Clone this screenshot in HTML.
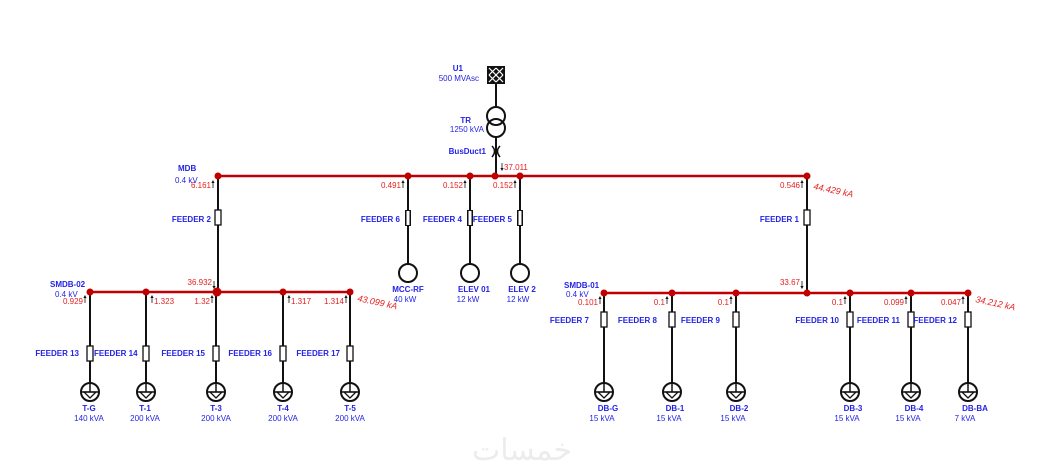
<!DOCTYPE html>
<html><head><meta charset="utf-8"><style>
html,body{margin:0;padding:0;background:#fff;width:1045px;height:470px;overflow:hidden}
svg{display:block}
text{font-family:"Liberation Sans",sans-serif;font-size:8px}
.b{fill:#2323e6}
.bb{fill:#2323e6;font-weight:bold}
.r{fill:#e62020}
.ri{fill:#e62020;font-style:italic;font-size:9px}
.ln{stroke:#111;stroke-width:2;fill:none}
.bus{stroke:#c00000;stroke-width:2.5}
.nd{fill:#c00000}
</style></head><body>
<svg width="1045" height="470" viewBox="0 0 1045 470" xmlns="http://www.w3.org/2000/svg">
<defs>
<g id="fuse"><rect x="-3" y="0" width="6" height="15" fill="#fff" stroke="#111" stroke-width="1.3"/></g>
<g id="load"><circle r="9" fill="#fff" stroke="#111" stroke-width="2"/><line x1="-9" y1="0" x2="9" y2="0" stroke="#111" stroke-width="1.5"/><path d="M-6,0 L6,0 L0,6 Z" fill="none" stroke="#111" stroke-width="1.3"/><line x1="0" y1="-9" x2="0" y2="0" stroke="#111" stroke-width="1.5"/></g>
<g id="arr"><line x1="0" y1="0" x2="0" y2="-7" stroke="#111" stroke-width="0.8"/><path d="M-1.6,-5 L0,-8 L1.6,-5Z" fill="#111"/></g>
<g id="arrd"><line x1="0" y1="0" x2="0" y2="7" stroke="#111" stroke-width="0.8"/><path d="M-1.6,5 L0,8 L1.6,5Z" fill="#111"/></g>
</defs>

<!-- Source U1 -->
<rect x="487" y="66" width="18" height="18" fill="#111"/>
<g stroke="#fff" stroke-width="1.2">
<line x1="489" y1="68" x2="503" y2="82"/><line x1="503" y1="68" x2="489" y2="82"/>
<line x1="489" y1="75" x2="496" y2="68"/><line x1="496" y1="82" x2="503" y2="75"/>
<line x1="489" y1="75" x2="496" y2="82"/><line x1="496" y1="68" x2="503" y2="75"/>
</g>
<text x="463" y="71" class="bb" text-anchor="end">U1</text>
<text x="479" y="81" class="b" text-anchor="end">500 MVAsc</text>
<line class="ln" x1="496" y1="84" x2="496" y2="107"/>
<circle cx="496" cy="116" r="9" fill="none" stroke="#111" stroke-width="2"/>
<circle cx="496" cy="128" r="9" fill="none" stroke="#111" stroke-width="2"/>
<text x="471" y="123" class="bb" text-anchor="end">TR</text>
<text x="484" y="132" class="b" text-anchor="end">1250 kVA</text>
<line class="ln" x1="496" y1="137" x2="496" y2="176"/>
<path d="M492,146 Q497,151 492,157 M500,146 Q495,151 500,157" stroke="#111" stroke-width="1.5" fill="none"/>
<text x="486" y="154" class="bb" text-anchor="end">BusDuct1</text>
<use href="#arrd" x="502" y="163"/>
<text x="504" y="170" class="r">37.011</text>

<!-- Top bus -->
<line class="bus" x1="218" y1="176" x2="807" y2="176"/>
<text x="178" y="171" class="bb">MDB</text>
<text x="175" y="183" class="b">0.4 kV</text>
<text x="211" y="188" class="r" text-anchor="end">6.161</text><use href="#arr" x="213" y="188"/>
<text x="401" y="188" class="r" text-anchor="end">0.491</text><use href="#arr" x="403" y="188"/>
<text x="463" y="188" class="r" text-anchor="end">0.152</text><use href="#arr" x="465" y="188"/>
<text x="513" y="188" class="r" text-anchor="end">0.152</text><use href="#arr" x="515" y="188"/>
<text x="800" y="188" class="r" text-anchor="end">0.546</text><use href="#arr" x="802" y="188"/>
<text x="813" y="189" class="ri" transform="rotate(12 813 189)">44.429 kA</text>

<!-- MDB -> SMDB-02 -->
<line class="ln" x1="218" y1="176" x2="218" y2="292"/>
<use href="#fuse" x="218" y="210"/>
<text x="211" y="222" class="bb" text-anchor="end">FEEDER 2</text>
<text x="212" y="285" class="r" text-anchor="end">36.932</text><use href="#arrd" x="214" y="281"/>

<!-- Motors -->
<line class="ln" x1="408" y1="176" x2="408" y2="264"/><rect x="405" y="210" width="6" height="16" fill="#111"/><rect x="406.5" y="211" width="3" height="14" fill="#fff"/>
<circle cx="408" cy="273" r="9" fill="#fff" stroke="#111" stroke-width="2"/>
<text x="400" y="222" class="bb" text-anchor="end">FEEDER 6</text>
<text x="408" y="292" class="bb" text-anchor="middle">MCC-RF</text>
<text x="405" y="302" class="b" text-anchor="middle">40 kW</text>

<line class="ln" x1="470" y1="176" x2="470" y2="264"/><rect x="467" y="210" width="6" height="16" fill="#111"/><rect x="468.5" y="211" width="3" height="14" fill="#fff"/>
<circle cx="470" cy="273" r="9" fill="#fff" stroke="#111" stroke-width="2"/>
<text x="462" y="222" class="bb" text-anchor="end">FEEDER 4</text>
<text x="474" y="292" class="bb" text-anchor="middle">ELEV 01</text>
<text x="468" y="302" class="b" text-anchor="middle">12 kW</text>

<line class="ln" x1="520" y1="176" x2="520" y2="264"/><rect x="517" y="210" width="6" height="16" fill="#111"/><rect x="518.5" y="211" width="3" height="14" fill="#fff"/>
<circle cx="520" cy="273" r="9" fill="#fff" stroke="#111" stroke-width="2"/>
<text x="512" y="222" class="bb" text-anchor="end">FEEDER 5</text>
<text x="522" y="292" class="bb" text-anchor="middle">ELEV 2</text>
<text x="518" y="302" class="b" text-anchor="middle">12 kW</text>

<!-- Feeder 1 -->
<line class="ln" x1="807" y1="176" x2="807" y2="293"/>
<use href="#fuse" x="807" y="210"/>
<text x="799" y="222" class="bb" text-anchor="end">FEEDER 1</text>
<text x="800" y="285" class="r" text-anchor="end">33.67</text><use href="#arrd" x="802" y="281"/>

<!-- Left bus SMDB-02 -->
<g>
<line class="ln" x1="90" y1="292" x2="90" y2="383"/><use href="#fuse" x="90" y="346"/><use href="#load" x="90" y="392"/>
<line class="ln" x1="146" y1="292" x2="146" y2="383"/><use href="#fuse" x="146" y="346"/><use href="#load" x="146" y="392"/>
<line class="ln" x1="216" y1="292" x2="216" y2="383"/><use href="#fuse" x="216" y="346"/><use href="#load" x="216" y="392"/>
<line class="ln" x1="283" y1="292" x2="283" y2="383"/><use href="#fuse" x="283" y="346"/><use href="#load" x="283" y="392"/>
<line class="ln" x1="350" y1="292" x2="350" y2="383"/><use href="#fuse" x="350" y="346"/><use href="#load" x="350" y="392"/>
</g>
<line class="bus" x1="90" y1="292" x2="350" y2="292"/>
<text x="50" y="287" class="bb">SMDB-02</text>
<text x="55" y="297" class="b">0.4 kV</text>
<text x="83" y="304" class="r" text-anchor="end">0.929</text><use href="#arr" x="85" y="303"/>
<use href="#arr" x="152" y="303"/><text x="154" y="304" class="r">1.323</text>
<text x="210" y="304" class="r" text-anchor="end">1.32</text><use href="#arr" x="212" y="303"/>
<use href="#arr" x="289" y="303"/><text x="291" y="304" class="r">1.317</text>
<text x="344" y="304" class="r" text-anchor="end">1.314</text><use href="#arr" x="346" y="303"/>
<text x="357" y="301" class="ri" transform="rotate(12 357 301)">43.099 kA</text>
<text x="79" y="356" class="bb" text-anchor="end">FEEDER 13</text>
<text x="94" y="356" class="bb">FEEDER 14</text>
<text x="205" y="356" class="bb" text-anchor="end">FEEDER 15</text>
<text x="272" y="356" class="bb" text-anchor="end">FEEDER 16</text>
<text x="340" y="356" class="bb" text-anchor="end">FEEDER 17</text>
<text x="89" y="411" class="bb" text-anchor="middle">T-G</text><text x="89" y="421" class="b" text-anchor="middle">140 kVA</text>
<text x="145" y="411" class="bb" text-anchor="middle">T-1</text><text x="145" y="421" class="b" text-anchor="middle">200 kVA</text>
<text x="216" y="411" class="bb" text-anchor="middle">T-3</text><text x="216" y="421" class="b" text-anchor="middle">200 kVA</text>
<text x="283" y="411" class="bb" text-anchor="middle">T-4</text><text x="283" y="421" class="b" text-anchor="middle">200 kVA</text>
<text x="350" y="411" class="bb" text-anchor="middle">T-5</text><text x="350" y="421" class="b" text-anchor="middle">200 kVA</text>

<!-- Right bus SMDB-01 -->
<g>
<line class="ln" x1="604" y1="293" x2="604" y2="383"/><use href="#fuse" x="604" y="312"/><use href="#load" x="604" y="392"/>
<line class="ln" x1="672" y1="293" x2="672" y2="383"/><use href="#fuse" x="672" y="312"/><use href="#load" x="672" y="392"/>
<line class="ln" x1="736" y1="293" x2="736" y2="383"/><use href="#fuse" x="736" y="312"/><use href="#load" x="736" y="392"/>
<line class="ln" x1="850" y1="293" x2="850" y2="383"/><use href="#fuse" x="850" y="312"/><use href="#load" x="850" y="392"/>
<line class="ln" x1="911" y1="293" x2="911" y2="383"/><use href="#fuse" x="911" y="312"/><use href="#load" x="911" y="392"/>
<line class="ln" x1="968" y1="293" x2="968" y2="383"/><use href="#fuse" x="968" y="312"/><use href="#load" x="968" y="392"/>
</g>
<line class="bus" x1="604" y1="293" x2="968" y2="293"/>
<text x="564" y="288" class="bb">SMDB-01</text>
<text x="566" y="297" class="b">0.4 kV</text>
<text x="598" y="305" class="r" text-anchor="end">0.101</text><use href="#arr" x="600" y="304"/>
<text x="665" y="305" class="r" text-anchor="end">0.1</text><use href="#arr" x="667" y="304"/>
<text x="729" y="305" class="r" text-anchor="end">0.1</text><use href="#arr" x="731" y="304"/>
<text x="843" y="305" class="r" text-anchor="end">0.1</text><use href="#arr" x="845" y="304"/>
<text x="904" y="305" class="r" text-anchor="end">0.099</text><use href="#arr" x="906" y="304"/>
<text x="961" y="305" class="r" text-anchor="end">0.047</text><use href="#arr" x="963" y="304"/>
<text x="975" y="302" class="ri" transform="rotate(12 975 302)">34.212 kA</text>
<text x="589" y="323" class="bb" text-anchor="end">FEEDER 7</text>
<text x="657" y="323" class="bb" text-anchor="end">FEEDER 8</text>
<text x="720" y="323" class="bb" text-anchor="end">FEEDER 9</text>
<text x="839" y="323" class="bb" text-anchor="end">FEEDER 10</text>
<text x="900" y="323" class="bb" text-anchor="end">FEEDER 11</text>
<text x="957" y="323" class="bb" text-anchor="end">FEEDER 12</text>
<text x="608" y="411" class="bb" text-anchor="middle">DB-G</text><text x="602" y="421" class="b" text-anchor="middle">15 kVA</text>
<text x="675" y="411" class="bb" text-anchor="middle">DB-1</text><text x="669" y="421" class="b" text-anchor="middle">15 kVA</text>
<text x="739" y="411" class="bb" text-anchor="middle">DB-2</text><text x="733" y="421" class="b" text-anchor="middle">15 kVA</text>
<text x="853" y="411" class="bb" text-anchor="middle">DB-3</text><text x="847" y="421" class="b" text-anchor="middle">15 kVA</text>
<text x="914" y="411" class="bb" text-anchor="middle">DB-4</text><text x="908" y="421" class="b" text-anchor="middle">15 kVA</text>
<text x="975" y="411" class="bb" text-anchor="middle">DB-BA</text><text x="965" y="421" class="b" text-anchor="middle">7 kVA</text>

<!-- nodes -->
<g class="nd">
<circle cx="218" cy="176" r="3.5"/><circle cx="408" cy="176" r="3.5"/><circle cx="470" cy="176" r="3.5"/><circle cx="495" cy="176" r="3.5"/><circle cx="520" cy="176" r="3.5"/><circle cx="807" cy="176" r="3.5"/>
<circle cx="90" cy="292" r="3.5"/><circle cx="146" cy="292" r="3.5"/><circle cx="217" cy="292" r="4.5"/><circle cx="283" cy="292" r="3.5"/><circle cx="350" cy="292" r="3.5"/>
<circle cx="604" cy="293" r="3.5"/><circle cx="672" cy="293" r="3.5"/><circle cx="736" cy="293" r="3.5"/><circle cx="807" cy="293" r="3.5"/><circle cx="850" cy="293" r="3.5"/><circle cx="911" cy="293" r="3.5"/><circle cx="968" cy="293" r="3.5"/>
</g>

<text x="522" y="460" text-anchor="middle" style="font-family:'DejaVu Sans',sans-serif;font-size:30px;fill:#ececec">خمسات</text>
</svg>
</body></html>
